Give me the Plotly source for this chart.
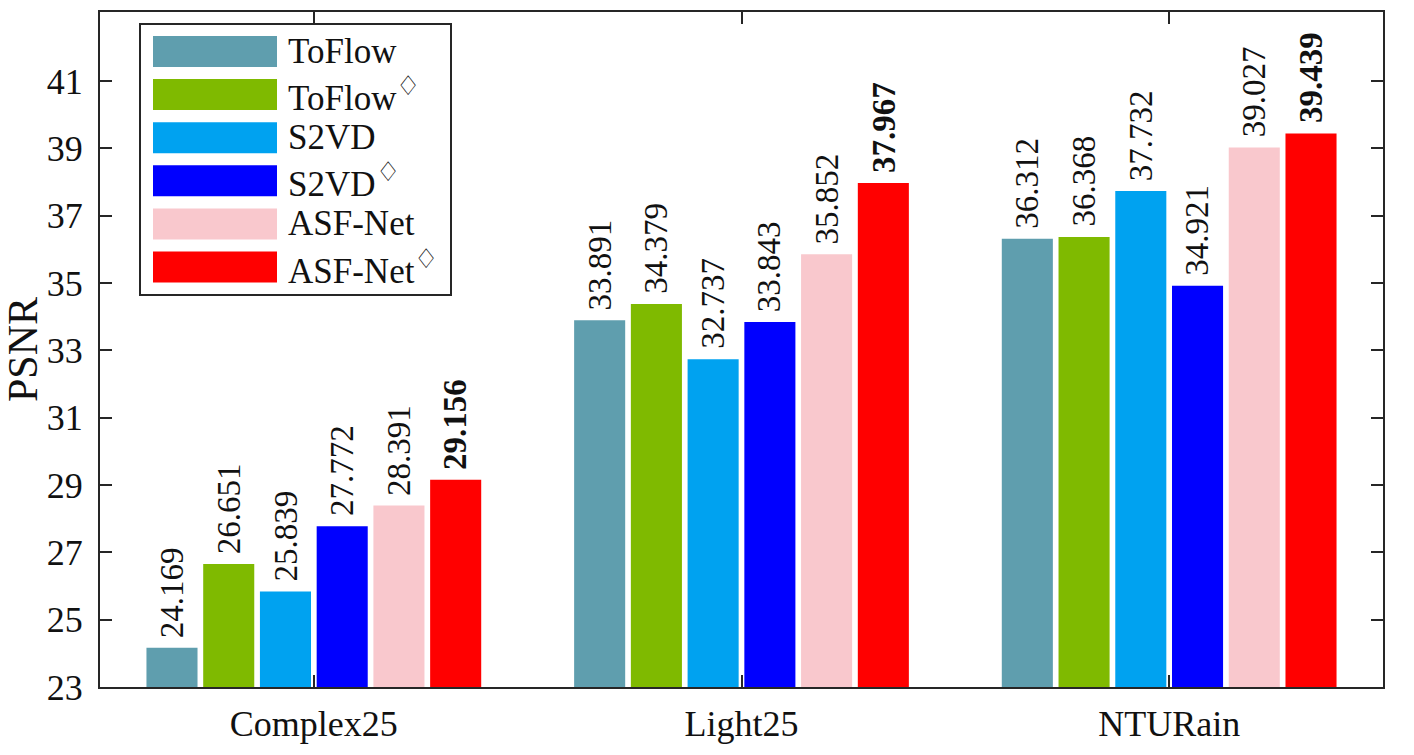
import plotly.graph_objects as go

categories = ["Complex25", "Light25", "NTURain"]
DIA = "<sup><span style='font-size:27px'>♢</span></sup>"
methods = ["ToFlow", "ToFlow" + DIA, "S2VD", "S2VD" + DIA, "ASF-Net", "ASF-Net" + DIA]
toflow = [24.169, 33.891, 36.312]
toflow_d = [26.651, 34.379, 36.368]
s2vd = [25.839, 32.737, 37.732]
s2vd_d = [27.772, 33.843, 34.921]
asfnet = [28.391, 35.852, 39.027]
asfnet_d = [29.156, 37.967, 39.439]
series = [toflow, toflow_d, s2vd, s2vd_d, asfnet, asfnet_d]
colors = ["#5F9EAE", "#7FBA00", "#00A2F0", "#0000FF", "#F9C8CD", "#FF0000"]
yticks = [23, 25, 27, 29, 31, 33, 35, 37, 39, 41]

FONT = "Liberation Serif"
TXT = "#111111"

W, H = 1414, 755
ml, mr, mt, mb = 100, 31, 12, 68
pw, ph = W - ml - mr, H - mt - mb

bargap, bargroupgap = 0.204, 0.1
cat_px = pw / len(categories)
slot_px = cat_px * (1 - bargap) / len(series)

fig = go.Figure()
annotations = []
for i, (name, vals, col) in enumerate(zip(methods, series, colors)):
    bold = (i == len(series) - 1)
    fig.add_trace(go.Bar(
        x=categories, y=vals, name=name, marker=dict(color=col, line=dict(width=0)),
        showlegend=False,
    ))
    for c, v in zip(categories, vals):
        t = "%.3f" % v
        annotations.append(dict(
            x=c, y=v, xref="x", yref="y", text=("<b>%s</b>" % t) if bold else t,
            showarrow=False, textangle=-90, xanchor="center", yanchor="bottom",
            xshift=(i - (len(series) - 1) / 2) * slot_px, yshift=8,
            font=dict(family=FONT, size=33, color=TXT)))

def px(x):
    return (x - ml) / pw

def py(y):
    return 1 - (y - mt) / ph

shapes = []
shapes.append(dict(type="rect", xref="paper", yref="paper",
                   x0=px(140), x1=px(451), y0=py(295), y1=py(24),
                   line=dict(color="#262626", width=2), fillcolor="white", layer="above"))
for i, (name, col) in enumerate(zip(methods, colors)):
    top = 36 + i * 43.1
    shapes.append(dict(type="rect", xref="paper", yref="paper",
                       x0=px(153), x1=px(277), y0=py(top + 31), y1=py(top),
                       line=dict(width=0), fillcolor=col, layer="above"))
    annotations.append(dict(xref="paper", yref="paper", x=px(286), y=py(top + 15.5),
                            text=name, showarrow=False, xanchor="left", yanchor="middle",
                            font=dict(family=FONT, size=35, color=TXT)))

fig.update_layout(
    width=W, height=H,
    margin=dict(l=ml, r=mr, t=mt, b=mb, autoexpand=False),
    paper_bgcolor="white", plot_bgcolor="white",
    barmode="group", bargap=bargap, bargroupgap=bargroupgap,
    font=dict(family=FONT, size=35, color=TXT),
    shapes=shapes, annotations=annotations,
    xaxis=dict(range=[-0.5, 2.5], showline=True, linecolor="#262626", linewidth=2,
               mirror="allticks", ticks="inside", ticklen=12, tickwidth=2, tickcolor="#262626",
               tickfont=dict(family=FONT, size=36, color=TXT), showgrid=False,
               zeroline=False, automargin=False, ticklabelstandoff=4),
    yaxis=dict(range=[23, 43.05], tickvals=yticks, showline=True, linecolor="#262626",
               linewidth=2, mirror="allticks", ticks="inside", ticklen=12, tickwidth=2,
               tickcolor="#262626", showgrid=False, zeroline=False, automargin=False,
               ticklabelstandoff=8,
               tickfont=dict(family=FONT, size=36, color=TXT),
               title=dict(text="PSNR", font=dict(family=FONT, size=42, color=TXT),
                          standoff=12)),
)

fig.write_html("out.html", config={"displayModeBar": False},
               post_script="document.body.style.margin='0';document.body.style.padding='0';")
